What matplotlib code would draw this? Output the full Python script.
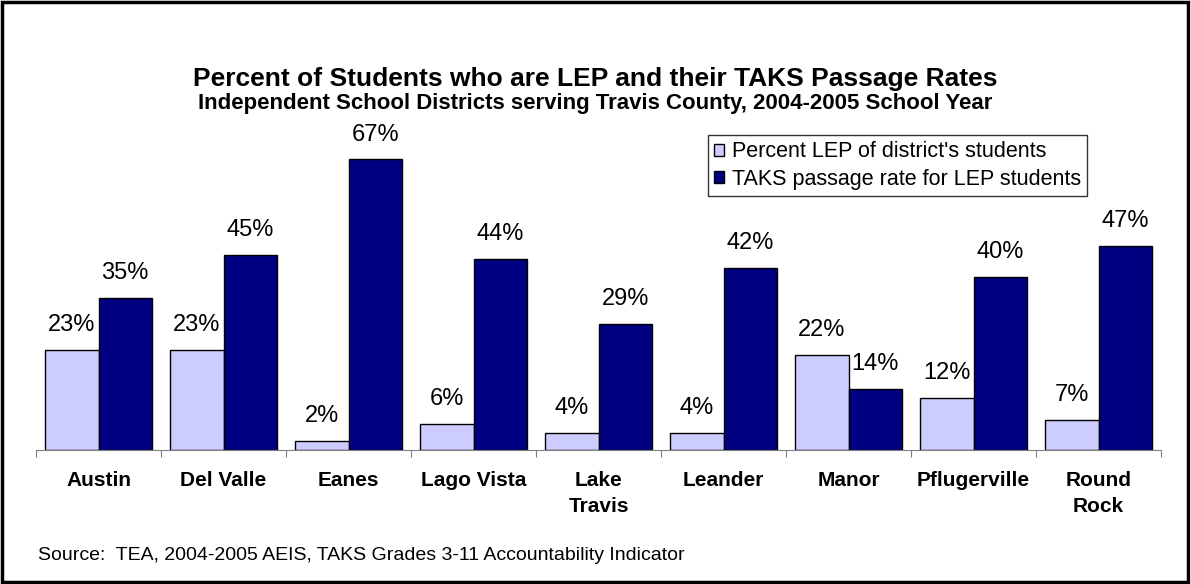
import matplotlib
matplotlib.use("Agg")
import matplotlib.pyplot as plt
from matplotlib.patches import Rectangle
import numpy as np

plt.rcParams["font.family"] = ["Liberation Sans", "DejaVu Sans"]

districts = ["Austin", "Del Valle", "Eanes", "Lago Vista", "Lake\nTravis",
             "Leander", "Manor", "Pflugerville", "Round\nRock"]
pct_lep = [23, 23, 2, 6, 4, 4, 22, 12, 7]
taks_pass = [35, 45, 67, 44, 29, 42, 14, 40, 47]

LIGHT = "#CCCCFF"
DARK = "#000080"

fig = plt.figure(figsize=(11.9, 5.84), dpi=100)
ax = fig.add_axes([0.0303, 0.2295, 0.9454, 0.594])

x = np.arange(len(districts))
w = 0.425
b1 = ax.bar(x - w / 2, pct_lep, w, color=LIGHT, edgecolor="black", lw=1,
            label="Percent LEP of district's students")
b2 = ax.bar(x + w / 2, taks_pass, w, color=DARK, edgecolor="black", lw=1,
            label="TAKS passage rate for LEP students")

# value labels above each bar
for bars, vals in ((b1, pct_lep), (b2, taks_pass)):
    for r, v in zip(bars, vals):
        ax.annotate(f"{v}%", (r.get_x() + r.get_width() / 2, v),
                    xytext=(0, 10), textcoords="offset points",
                    ha="center", va="bottom", fontsize=17)

ax.set_xlim(-0.5, len(districts) - 0.5)
ax.set_ylim(0, 80)
ax.set_yticks([])
for s in ("left", "right", "top"):
    ax.spines[s].set_visible(False)
ax.spines["bottom"].set_color("#808080")
ax.set_xticks(np.arange(len(districts) + 1) - 0.5)
ax.set_xticklabels([])
ax.tick_params(axis="x", length=5, color="#808080")
for i, name in enumerate(districts):
    ax.annotate(name, xy=(i, 0), xycoords=("data", "axes fraction"),
                xytext=(0, -15), textcoords="offset points", ha="center",
                va="top", fontsize=15, fontweight="bold", linespacing=1.45)

leg = ax.legend(loc="upper left", bbox_to_anchor=(708 / 1190, 1 - 135 / 584),
                bbox_transform=fig.transFigure, fontsize=15.5,
                frameon=True, fancybox=False, edgecolor="black",
                handlelength=0.45, handleheight=0.45, handletextpad=0.35,
                borderpad=0.3, labelspacing=0.3, borderaxespad=0)
leg.get_frame().set_linewidth(1)

fig.text(0.5, 0.864, "Percent of Students who are LEP and their TAKS Passage Rates",
         ha="center", va="center", fontsize=19, fontweight="bold")
fig.text(0.5, 0.822, "Independent School Districts serving Travis County, 2004-2005 School Year",
         ha="center", va="center", fontsize=16, fontweight="bold")
fig.text(0.032, 0.048, "Source:  TEA, 2004-2005 AEIS, TAKS Grades 3-11 Accountability Indicator",
         ha="left", va="center", fontsize=14)

fig.patches.append(Rectangle((0.002, 0.003), 0.996, 0.994, transform=fig.transFigure,
                             fill=False, edgecolor="black", lw=2.5))

fig.savefig("out.png", dpi=100)
